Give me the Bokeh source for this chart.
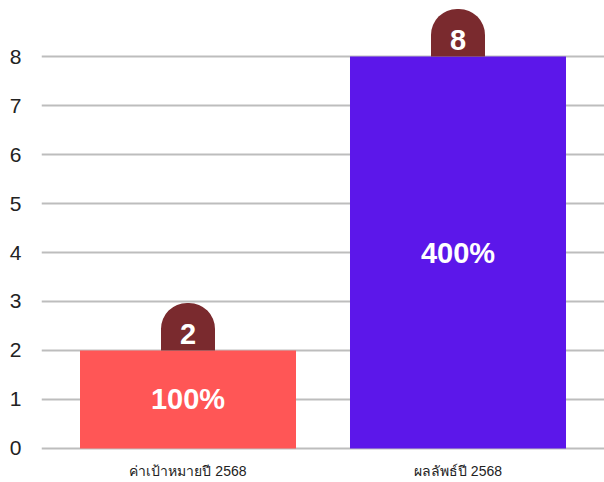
from bokeh.plotting import figure
from bokeh.models import ColumnDataSource, FactorRange, Range1d, FixedTicker
from bokeh.core.properties import value
from bokeh.embed import file_html
from bokeh.resources import INLINE

categories = ["ค่าเป้าหมายปี 2568", "ผลลัพธ์ปี 2568"]
values = [2, 8]
percent_labels = ["100%", "400%"]
value_labels = ["2", "8"]
bar_colors = ["#ff5656", "#5c17ea"]
y_ticks = [0, 1, 2, 3, 4, 5, 6, 7, 8]

BADGE_H = 0.97
FONT = "Liberation Sans"

src = ColumnDataSource(dict(
    x=categories,
    top=values,
    color=bar_colors,
    mid=[v / 2 for v in values],
    pct=percent_labels,
    badge_top=[v + BADGE_H for v in values],
    badge_txt_y=[v + 0.33 for v in values],
    vtxt=value_labels,
    zero=[0 for _ in values],
))

p = figure(
    width=604, height=482,
    x_range=FactorRange(factors=categories, range_padding=0.0426),
    y_range=Range1d(-0.694, 9.143),
    x_axis_location=None,
    output_backend="svg", toolbar_location=None,
    min_border_left=41, min_border_right=0, min_border_top=0, min_border_bottom=0,
)
p.outline_line_color = None
p.background_fill_color = "white"
p.border_fill_color = "white"

p.vbar(x="x", top="top", bottom=0, width=0.8, fill_color="color", line_color=None, source=src)
p.vbar(x="x", bottom="top", top="badge_top", width=0.2, fill_color="#7a2a2e", line_color=None,
       border_radius=(26, 26, 0, 0), source=src)
p.text(x="x", y="badge_txt_y", text="vtxt", source=src, text_font=value(FONT), text_font_style="bold",
       text_font_size="29px", text_color="white", text_align="center", text_baseline="middle")
p.text(x="x", y="mid", text="pct", source=src, text_font=value(FONT), text_font_style="bold",
       text_font_size="29px", text_color="white", text_align="center", text_baseline="middle")
# category labels under the bars
p.text(x="x", y="zero", text="x", source=src, y_offset=23, text_font=value(FONT),
       text_font_size="14px", text_color="#222222", text_align="center", text_baseline="middle")

for g in p.xgrid:
    g.visible = False
p.ygrid.grid_line_color = "#bdbdbd"
p.ygrid.grid_line_width = 2

p.yaxis.ticker = FixedTicker(ticks=y_ticks)
p.yaxis.axis_line_color = None
p.yaxis.major_tick_line_color = None
p.yaxis.minor_tick_line_color = None
p.yaxis.major_label_text_font = FONT
p.yaxis.major_label_text_color = "#222222"
p.yaxis.major_label_text_font_size = "21px"
p.yaxis.major_label_standoff = 14

open("out.html", "w").write(file_html(p, INLINE))
